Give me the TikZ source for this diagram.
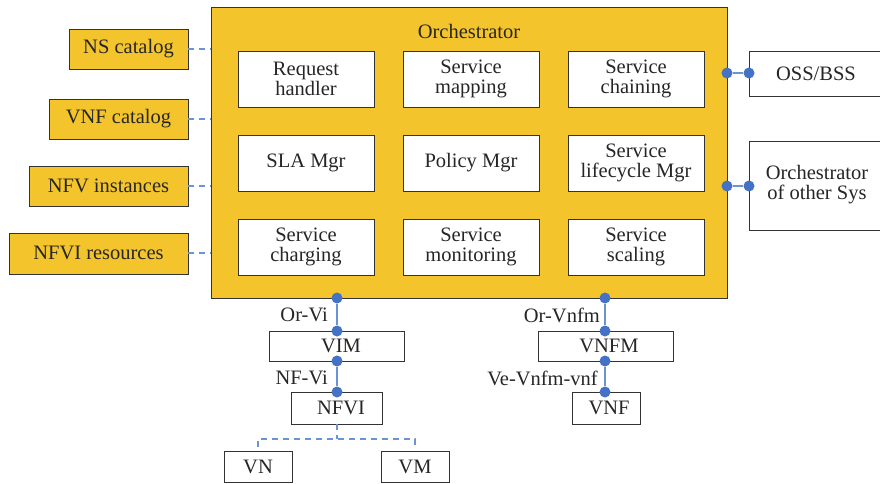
\documentclass[tikz,border=0pt]{standalone}
\usepackage{fontspec}
\setmainfont{Liberation Serif}
\begin{document}
\begin{tikzpicture}[x=1pt,y=-1pt,
  every node/.style={font=\fontsize{20.5}{20}\selectfont, text=black!85, inner sep=0pt},
  ybox/.style={draw=black!80, line width=1pt, fill=ylw},
  wbox/.style={draw=black!80, line width=1pt, fill=white, align=center},
  dot/.style={circle, fill=dotblue, minimum size=11pt, inner sep=0pt},
  link/.style={draw=lnblue, line width=1.6pt},
  dlink/.style={draw=lnblue, line width=1.3pt, dash pattern=on 6pt off 5pt}]
\definecolor{ylw}{HTML}{F4C42C}
\definecolor{dotblue}{HTML}{4472C4}
\definecolor{lnblue}{HTML}{6A95D2}
\useasboundingbox (0,0) rectangle (880,483);
% orchestrator
\draw[ybox] (211,7) rectangle (727,298);
\node (orch) at (469,31) {Orchestrator};
% inner boxes
\newcommand{\ibox}[4]{\draw[wbox] (#1,#2) rectangle ++(136,56); \node[align=center] (#4) at (#1+68,#2+28) {#3};}
\ibox{238}{51}{Request\\handler}{rh}
\ibox{403}{51}{Service\\mapping}{sm}
\ibox{568}{51}{Service\\chaining}{sc}
\ibox{238}{135}{SLA Mgr}{sla}
\ibox{403}{135}{Policy Mgr}{pm}
\ibox{568}{135}{Service\\lifecycle Mgr}{sl}
\ibox{238}{219}{Service\\charging}{sch}
\ibox{403}{219}{Service\\monitoring}{smo}
\ibox{568}{219}{Service\\scaling}{ss}
% left catalogs
\draw[ybox] (69,29) rectangle (188,69); \node (ns) at (128.5,49) {NS catalog};
\draw[ybox] (49,99) rectangle (188,139); \node (vnfc) at (118.5,119) {VNF catalog};
\draw[ybox] (29,166) rectangle (188,206); \node (nfvi) at (108.5,186) {NFV instances};
\draw[ybox] (9,233) rectangle (188,274); \node (nfvir) at (98.5,253) {NFVI resources};
\coordinate (l1) at (188,49); \coordinate (r1) at (211,49);
\coordinate (l2) at (188,119); \coordinate (r2) at (211,119);
\coordinate (l3) at (188,186); \coordinate (r3) at (211,186);
\coordinate (l4) at (188,253); \coordinate (r4) at (211,253);
\foreach \i in {1,2,3,4} \draw[dlink] (l\i) -- (r\i);
% right boxes
\draw[wbox] (749,51) rectangle (890,96); \node (oss) at (816,74) {OSS/BSS};
\draw[wbox] (749,141) rectangle (890,230); \node[align=center] (oth) at (817,185) {Orchestrator\\of other Sys};
\node[dot] (d1a) at (727,73) {}; \node[dot] (d1b) at (749,73) {};
\node[dot] (d2a) at (727,186) {}; \node[dot] (d2b) at (749,186) {};
\draw[link] (d1a) -- (d1b); \draw[link] (d2a) -- (d2b);
% VIM branch
\draw[wbox] (269,331) rectangle (404,361); \node (vim) at (341,346) {VIM};
\draw[wbox] (291,392) rectangle (382,424); \node (nfvib) at (341,408) {NFVI};
\node[dot] (v0) at (337,298) {};
\node[dot] (v1) at (337,331) {};
\node[dot] (v2) at (337,361) {};
\node[dot] (v3) at (337,392) {};
\draw[link] (v0) -- (v1); \draw[link] (v2) -- (v3);
\node[anchor=east] (orvi) at (328,315) {Or-Vi};
\node[anchor=east] (nfvil) at (328,378) {NF-Vi};
\coordinate (n0) at (337,424); \coordinate (n1) at (337,439);
\coordinate (vnT) at (258,447); \coordinate (vmT) at (415,447);
\draw[dlink] (n0) -- (n1);
\draw[dlink] (vnT) |- (vmT |- n1) -- (vmT);
\draw[wbox] (224,451) rectangle (292,482); \node (vn) at (258,466.5) {VN};
\draw[wbox] (381,451) rectangle (449,482); \node (vm) at (415,466.5) {VM};
% VNFM branch
\draw[wbox] (538,331) rectangle (673,361); \node (vnfm) at (609,346) {VNFM};
\draw[wbox] (572,392) rectangle (640,424); \node (vnf) at (609,408) {VNF};
\node[dot] (w0) at (605,298) {};
\node[dot] (w1) at (605,331) {};
\node[dot] (w2) at (605,361) {};
\node[dot] (w3) at (605,392) {};
\draw[link] (w0) -- (w1); \draw[link] (w2) -- (w3);
\node[anchor=east] (orvnfm) at (600,315) {Or-Vnfm};
\node[anchor=east] (vevnfm) at (598,378) {Ve-Vnfm-vnf};
\end{tikzpicture}
\end{document}
